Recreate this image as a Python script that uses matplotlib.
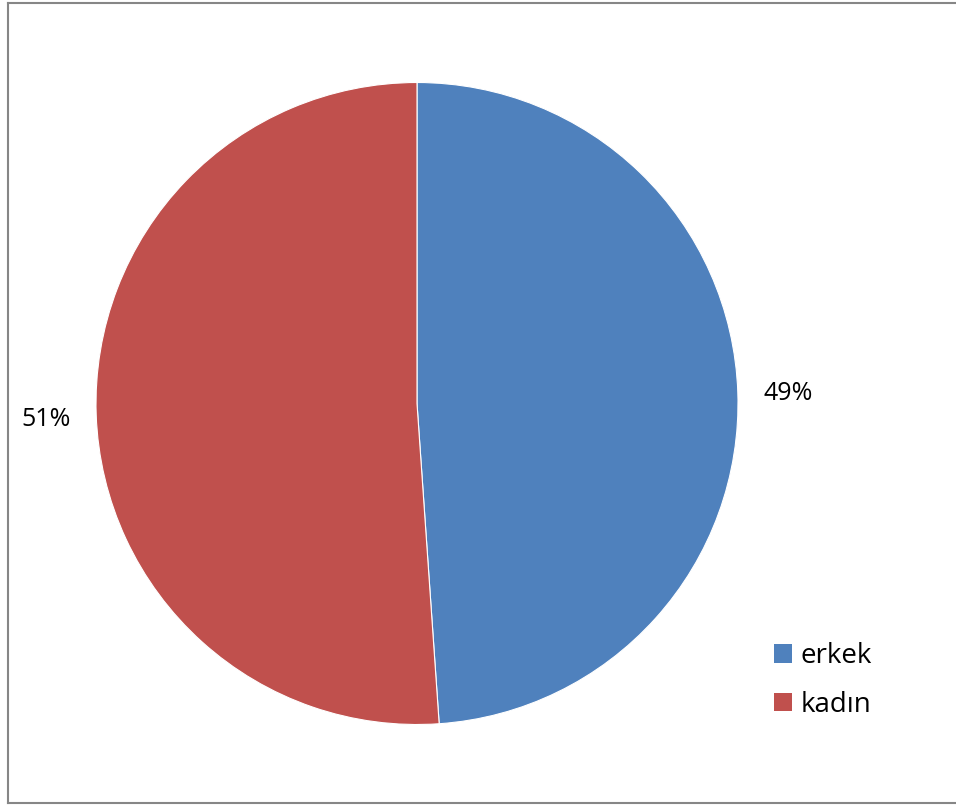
import matplotlib.pyplot as plt
from matplotlib.lines import Line2D

# gender split
labels = ["erkek", "kadın"]
values = [48.9, 51.1]
colors = ["#4F81BD", "#C0504D"]

plt.rcParams['font.family'] = ['Open Sans', 'DejaVu Sans']

W, H = 956, 805
fig = plt.figure(figsize=(W / 100, H / 100), dpi=100)

# outer chart frame (right side runs off the image)
frame_col = "#868686"
fig.add_artist(Line2D([8 / W, 8 / W], [1 - 3.5 / H, 1 - 803 / H], color=frame_col, lw=1.5))
fig.add_artist(Line2D([8 / W, 1.0], [1 - 3.5 / H, 1 - 3.5 / H], color=frame_col, lw=1.5))
fig.add_artist(Line2D([8 / W, 1.0], [1 - 803 / H, 1 - 803 / H], color=frame_col, lw=1.5))

# pie centre (417, 403.5) px, radius 321 px
cx, cy, r = 417, 403.5, 321
ax = fig.add_axes([(cx - r) / W, 1 - (cy + r) / H, 2 * r / W, 2 * r / H])
wedges, _, autotexts = ax.pie(values, colors=colors, startangle=90, counterclock=False,
                              autopct='%1.0f%%', pctdistance=1.156,
                              wedgeprops=dict(edgecolor="white", linewidth=0.8),
                              textprops=dict(fontsize=18, color="#000000"))
for t in autotexts:
    x, y = t.get_position()
    t.set_position((x, y - 0.01))
ax.set_xlim(-1, 1)
ax.set_ylim(-1, 1)
ax.set_aspect('equal')

leg = fig.legend(wedges, labels, loc='upper left',
                 bbox_to_anchor=(774 / W, 1 - 642 / H), frameon=False,
                 fontsize=20, handlelength=0.65, handleheight=0.65,
                 handletextpad=0.3, labelspacing=0.75, borderpad=0, borderaxespad=0)
for h in leg.legend_handles:
    h.set_edgecolor('none')

fig.savefig("out.png", dpi=100)
